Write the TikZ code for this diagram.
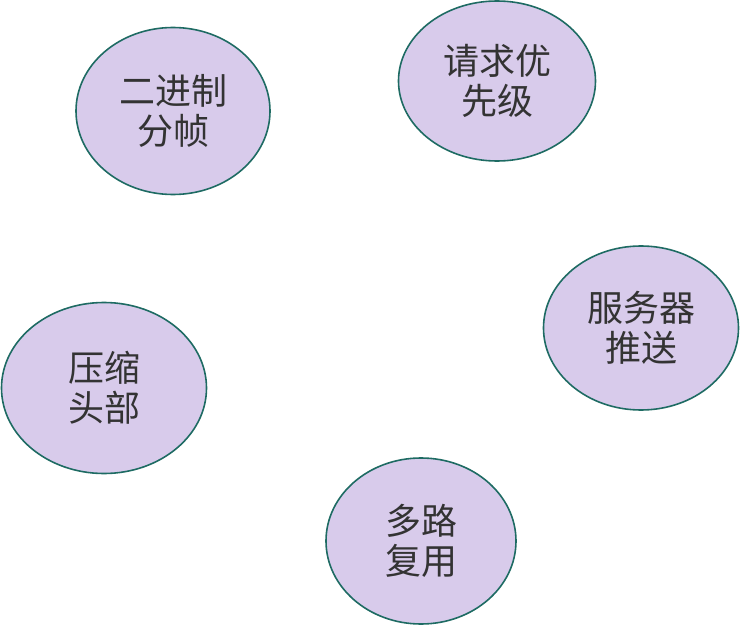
\documentclass[tikz,border=0pt]{standalone}
\usepackage{fontspec}
\newfontfamily\cjk{Noto Sans CJK SC}
\usetikzlibrary{shapes.geometric}
\definecolor{bubblefill}{HTML}{D8CBEB}
\definecolor{bubbleline}{HTML}{1E6B63}
\definecolor{bubbletext}{HTML}{333333}
\tikzset{
  bubble/.style={ellipse, draw=bubbleline, line width=1.6pt, fill=bubblefill,
    inner sep=0pt, text=bubbletext, align=center,
    font=\cjk\fontsize{36}{40}\selectfont}
}
\begin{document}
\begin{tikzpicture}[x=1pt,y=-1pt]
\useasboundingbox (0,0) rectangle (740,629);
\node[bubble, minimum width=194pt, minimum height=167pt] (binary) at (173,111) {二进制\\分帧};
\node[bubble, minimum width=197pt, minimum height=160pt] (priority) at (497,81) {请求优\\先级};
\node[bubble, minimum width=195pt, minimum height=164pt] (push) at (641,328) {服务器\\推送};
\node[bubble, minimum width=205pt, minimum height=171pt] (header) at (104,388) {压缩\\头部};
\node[bubble, minimum width=190pt, minimum height=166pt] (mux) at (421,541) {多路\\复用};
\end{tikzpicture}
\end{document}
